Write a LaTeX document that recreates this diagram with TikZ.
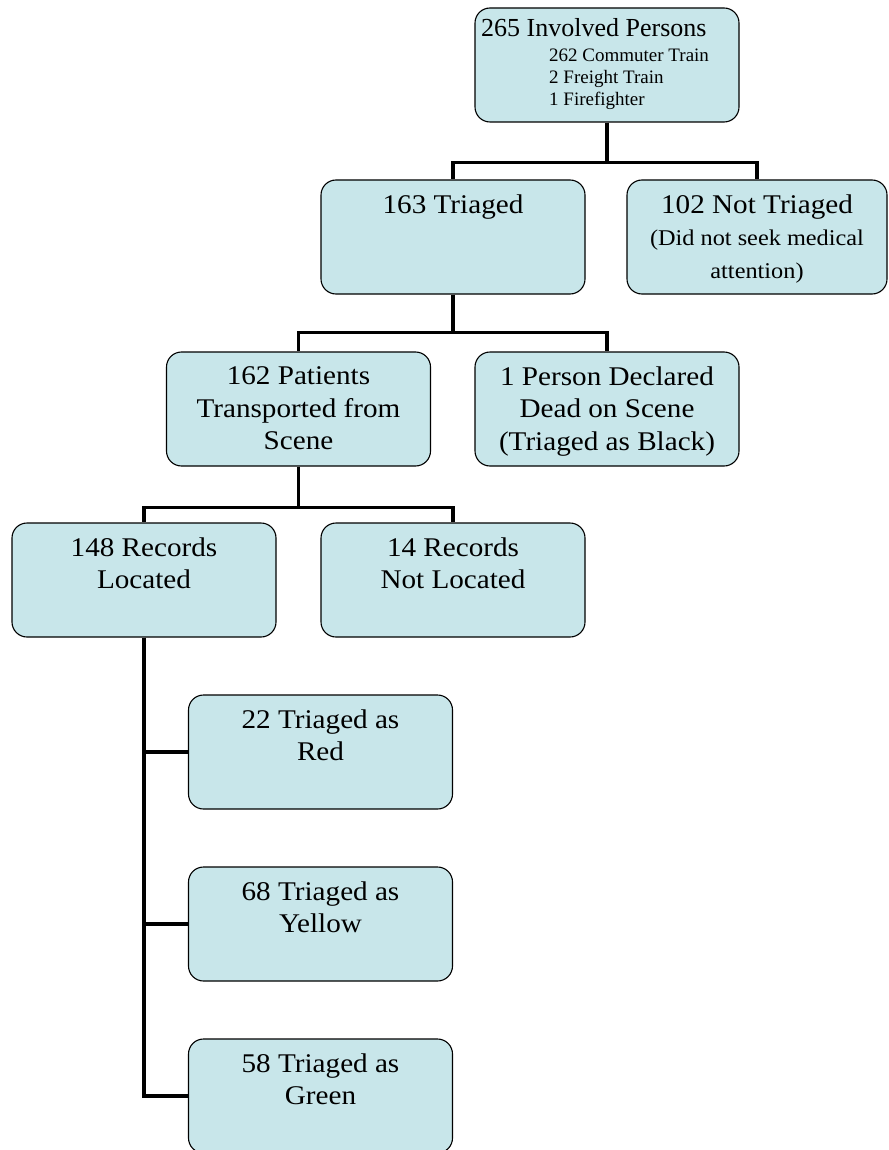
\documentclass[tikz,border=0pt]{standalone}
\usepackage{fontspec}
\setmainfont{Liberation Serif}
\newfontfamily\boxfont{Liberation Serif}[FakeStretch=1.08]
\usepackage{xcolor}
\usetikzlibrary{calc}
\definecolor{boxfill}{RGB}{200,230,234}
\tikzset{
  box/.style={draw, fill=boxfill, rounded corners=15pt, line width=1.1pt, minimum width=264pt, minimum height=114pt, inner sep=0pt},
  boxtext/.style={anchor=north, align=center, inner sep=0pt, font=\boxfont\fontsize{27}{32.5}\selectfont},
  link/.style={line width=3.6pt}
}
\begin{document}
\begin{tikzpicture}[x=1pt, y=-1pt]
      \useasboundingbox (0,0) rectangle (888,1150);

      \node[box] (inv) at (607,65) {};
      \node[box] (tri) at (453,237) {};
      \node[box, minimum width=260pt] (ntri) at (757,237) {};
      \node[box] (trans) at (298.5,409) {};
      \node[box] (dead) at (607,409) {};
      \node[box] (loc) at (144,580) {};
      \node[box] (nloc) at (453,580) {};
      \node[box] (red) at (320.5,752) {};
      \node[box] (yel) at (320.5,924) {};
      \node[box] (grn) at (320.5,1096) {};

      \node[anchor=west, inner sep=0pt, font=\fontsize{26}{30}\selectfont] (invt) at (481,28) {265 Involved Persons};
      \node[anchor=north west, align=left, inner sep=0pt, font=\fontsize{19}{22}\selectfont] (invs) at (549,49) {262 Commuter Train\\2 Freight Train\\1 Firefighter};
      \node[boxtext] (trit) at ($(tri.north)+(0,15)$) {163 Triaged};
      \node[boxtext] (ntrit) at ($(ntri.north)+(0,15)$) {102 Not Triaged\\{\fontsize{22.5}{32}\selectfont (Did not seek medical}\\{\fontsize{22.5}{31}\selectfont attention)}};
      \node[boxtext] (transt) at ($(trans.north)+(0,15)$) {162 Patients\\Transported from\\Scene};
      \node[boxtext] (deadt) at ($(dead.north)+(0,15)$) {1 Person Declared\\Dead on Scene\\(Triaged as Black)};
      \node[boxtext] (loct) at ($(loc.north)+(0,15)$) {148 Records\\Located};
      \node[boxtext] (nloct) at ($(nloc.north)+(0,15)$) {14 Records\\Not Located};
      \node[boxtext] (redt) at ($(red.north)+(0,15)$) {22 Triaged as\\Red};
      \node[boxtext] (yelt) at ($(yel.north)+(0,15)$) {68 Triaged as\\Yellow};
      \node[boxtext] (grnt) at ($(grn.north)+(0,15)$) {58 Triaged as\\Green};

      \draw[link] (inv.south) -- ++(0,40) -| (tri.north);
      \draw[link] (inv.south) -- ++(0,40) -| (ntri.north);
      \draw[link] (tri.south) -- ++(0,38) -| (trans.north);
      \draw[link] (tri.south) -- ++(0,38) -| (dead.north);
      \draw[link] (trans.south) -- ++(0,41) -| (loc.north);
      \draw[link] (trans.south) -- ++(0,41) -| (nloc.north);
      \draw[link] (loc.south) |- (red.west);
      \draw[link] (loc.south) |- (yel.west);
      \draw[link] (loc.south) |- (grn.west);
\end{tikzpicture}
\end{document}
